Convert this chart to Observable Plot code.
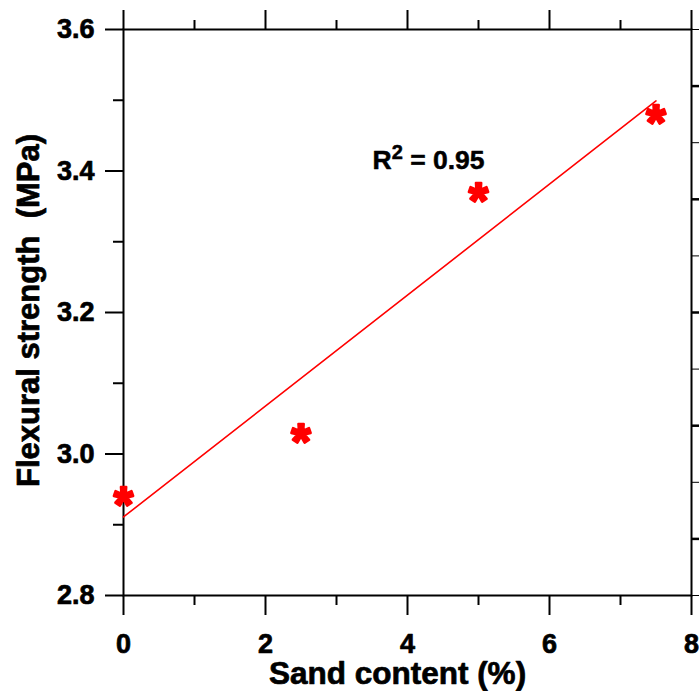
<!DOCTYPE html>
<html><head><meta charset="utf-8">
<script src="https://cdn.jsdelivr.net/npm/d3@7"></script>
<script src="https://cdn.jsdelivr.net/npm/@observablehq/plot@0.6"></script>
<style>body{margin:0;background:#fff}</style>
</head><body><div id="chart"></div>
<script>
const sandContent = [0, 2.5, 5, 7.5];
const flexuralStrength = [2.94, 3.03, 3.37, 3.48];
const xMajorTicks = [0, 2, 4, 6, 8];
const xMinorTicks = [1, 3, 5, 7];
const yMajorTicks = [2.8, 3.0, 3.2, 3.4, 3.6];
const yMinorTicks = [2.9, 3.1, 3.3, 3.5];
const rightTicksThin = [2.8, 2.96, 3.12, 3.28, 3.44, 3.6];
const rightTicksThick = [2.88, 3.04, 3.2, 3.36, 3.52];
const xTitle = "Sand content (%)";
const yTitle = "Flexural strength  (MPa)";
const annotationText = "R2 = 0.95";
const annotationPos = {x: 3.507, y: 3.4035};

const points = sandContent.map((x, i) => ({x, y: flexuralStrength[i]}));
const font = "'Liberation Sans', Arial, sans-serif";
const red = "#ff0000";
const heavy = {fontWeight: "bold", fill: "black", stroke: "black", strokeWidth: 0.7};

const chart = Plot.plot({
  width: 699, height: 691,
  marginLeft: 123, marginRight: 8, marginTop: 29, marginBottom: 96,
  x: {domain: [0, 8]},
  y: {domain: [2.8, 3.6]},
  axis: null,
  style: {fontFamily: font, fontWeight: "bold", color: "black", background: "white"},
  marks: [
    Plot.frame({stroke: "black", strokeWidth: 2}),
    Plot.axisX(xMajorTicks, {anchor: "bottom", tickSize: 20, strokeWidth: 2, tickPadding: 18, fontSize: 27, fontWeight: "bold", textStroke: "black", textStrokeWidth: 0.7, tickFormat: d => String(d), label: null}),
    Plot.axisX(xMinorTicks, {anchor: "bottom", tickSize: 10, strokeWidth: 2, fill: "none", label: null}),
    Plot.axisX(xMajorTicks, {anchor: "top", tickSize: 20, strokeWidth: 2, fill: "none", label: null}),
    Plot.axisX(xMinorTicks, {anchor: "top", tickSize: 10, strokeWidth: 2, fill: "none", label: null}),
    Plot.axisY(yMajorTicks, {anchor: "left", tickSize: 18, strokeWidth: 2, tickPadding: 11, fontSize: 27, fontWeight: "bold", textStroke: "black", textStrokeWidth: 0.7, tickFormat: d3.format(".1f"), label: null}),
    Plot.axisY(yMinorTicks, {anchor: "left", tickSize: 10, strokeWidth: 2, fill: "none", label: null}),
    Plot.axisY(rightTicksThin, {anchor: "right", tickSize: 12, strokeWidth: 1, fill: "none", label: null}),
    Plot.axisY(rightTicksThick, {anchor: "right", tickSize: 12, strokeWidth: 2.5, fill: "none", label: null}),
    Plot.linearRegressionY(points, {x: "x", y: "y", stroke: red, strokeWidth: 1.6, ci: 0}),
    Plot.text(points, {x: "x", y: "y", text: () => "*", fill: red, stroke: red, strokeWidth: 2.5, strokeLinejoin: "round", fontSize: 50, fontWeight: "bold", dy: 10}),
    Plot.text([annotationPos], {x: "x", y: "y", text: () => annotationText, textAnchor: "start", lineAnchor: "bottom", fontSize: 26.5, ...heavy, strokeWidth: 0.5}),
    Plot.text([xTitle], {frameAnchor: "bottom", lineAnchor: "bottom", dy: 88, dx: -10, fontSize: 31.5, ...heavy}),
    Plot.text([yTitle], {frameAnchor: "left", textAnchor: "middle", rotate: -90, lineAnchor: "bottom", dx: -85, dy: -2, fontSize: 31, ...heavy})
  ]
});

// Render the superscript in the R² annotation
chart.querySelectorAll("text").forEach(t => {
  if (t.textContent === annotationText) {
    const [base, sup, ...rest] = annotationText;
    t.textContent = "";
    const ns = "http://www.w3.org/2000/svg";
    const a = document.createElementNS(ns, "tspan"); a.textContent = base; t.appendChild(a);
    const b = document.createElementNS(ns, "tspan"); b.textContent = sup; b.setAttribute("dy", "-10"); b.setAttribute("font-size", "20"); t.appendChild(b);
    const c = document.createElementNS(ns, "tspan"); c.textContent = rest.join(""); c.setAttribute("dy", "10"); t.appendChild(c);
  }
});
document.getElementById("chart").appendChild(chart);
</script>
</body></html>
